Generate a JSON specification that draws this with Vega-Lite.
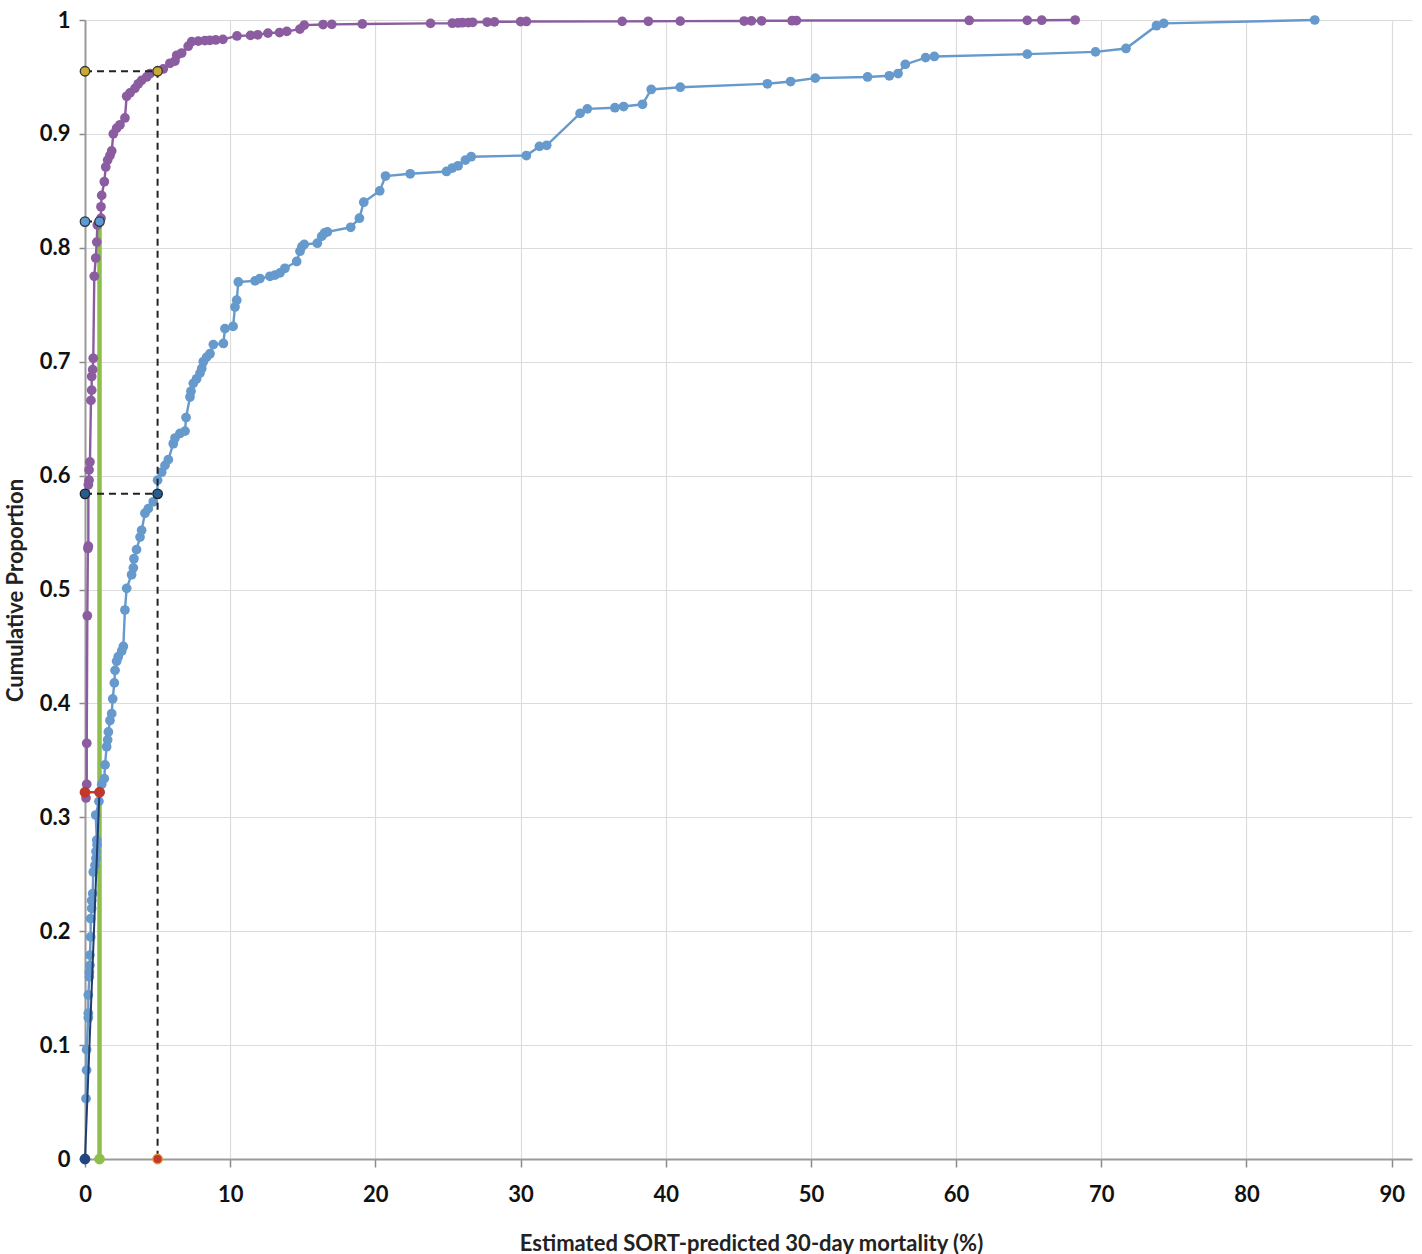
{
  "$schema": "https://vega.github.io/schema/vega-lite/v6.json",
  "autosize": "none",
  "width": 1327,
  "height": 1139,
  "padding": {"left": 85, "top": 20, "right": 10, "bottom": 95},
  "background": "white",
  "config": {
    "view": {"stroke": null},
    "font": "Lato",
    "axis": {
      "gridColor": "#dcdcdc",
      "gridWidth": 1.2,
      "domainColor": "#9a9a9a",
      "domainWidth": 2,
      "tickColor": "#8a8a8a",
      "tickWidth": 1.5,
      "labelColor": "#111",
      "labelFont": "Lato",
      "labelFontWeight": "bold",
      "labelFontSize": 22,
      "labelFlush": false,
      "titleFont": "Lato",
      "titleFontWeight": "bold",
      "titleFontSize": 22,
      "titleColor": "#222"
    }
  },
  "datasets": {
    "curves": [
      {"s": "Elective", "x": 0.07, "y": 0.317}, {"s": "Elective", "x": 0.12, "y": 0.329}, {"s": "Elective", "x": 0.12, "y": 0.365}, {"s": "Elective", "x": 0.16, "y": 0.477}, {"s": "Elective", "x": 0.2, "y": 0.536}, {"s": "Elective", "x": 0.23, "y": 0.538}, {"s": "Elective", "x": 0.23, "y": 0.592}, {"s": "Elective", "x": 0.28, "y": 0.596}, {"s": "Elective", "x": 0.28, "y": 0.605}, {"s": "Elective", "x": 0.34, "y": 0.612}, {"s": "Elective", "x": 0.41, "y": 0.666}, {"s": "Elective", "x": 0.46, "y": 0.675}, {"s": "Elective", "x": 0.46, "y": 0.687}, {"s": "Elective", "x": 0.53, "y": 0.693}, {"s": "Elective", "x": 0.57, "y": 0.703}, {"s": "Elective", "x": 0.64, "y": 0.775}, {"s": "Elective", "x": 0.74, "y": 0.791}, {"s": "Elective", "x": 0.81, "y": 0.805}, {"s": "Elective", "x": 0.85, "y": 0.82}, {"s": "Elective", "x": 1.1, "y": 0.826}, {"s": "Elective", "x": 1.1, "y": 0.836}, {"s": "Elective", "x": 1.15, "y": 0.846}, {"s": "Elective", "x": 1.33, "y": 0.858}, {"s": "Elective", "x": 1.43, "y": 0.871}, {"s": "Elective", "x": 1.56, "y": 0.877}, {"s": "Elective", "x": 1.72, "y": 0.881}, {"s": "Elective", "x": 1.84, "y": 0.885}, {"s": "Elective", "x": 1.95, "y": 0.9}, {"s": "Elective", "x": 2.18, "y": 0.905}, {"s": "Elective", "x": 2.41, "y": 0.908}, {"s": "Elective", "x": 2.75, "y": 0.914}, {"s": "Elective", "x": 2.87, "y": 0.933}, {"s": "Elective", "x": 3.1, "y": 0.936}, {"s": "Elective", "x": 3.44, "y": 0.94}, {"s": "Elective", "x": 3.67, "y": 0.944}, {"s": "Elective", "x": 3.9, "y": 0.947}, {"s": "Elective", "x": 4.25, "y": 0.95}, {"s": "Elective", "x": 4.48, "y": 0.953}, {"s": "Elective", "x": 5.01, "y": 0.955}, {"s": "Elective", "x": 5.39, "y": 0.957}, {"s": "Elective", "x": 5.85, "y": 0.962}, {"s": "Elective", "x": 6.2, "y": 0.964}, {"s": "Elective", "x": 6.32, "y": 0.969}, {"s": "Elective", "x": 6.66, "y": 0.971}, {"s": "Elective", "x": 7.11, "y": 0.977}, {"s": "Elective", "x": 7.35, "y": 0.981}, {"s": "Elective", "x": 7.8, "y": 0.9815}, {"s": "Elective", "x": 8.26, "y": 0.982}, {"s": "Elective", "x": 8.6, "y": 0.9822}, {"s": "Elective", "x": 9.0, "y": 0.9825}, {"s": "Elective", "x": 9.5, "y": 0.983}, {"s": "Elective", "x": 10.47, "y": 0.986}, {"s": "Elective", "x": 11.4, "y": 0.9865}, {"s": "Elective", "x": 11.9, "y": 0.987}, {"s": "Elective", "x": 12.6, "y": 0.9885}, {"s": "Elective", "x": 13.4, "y": 0.989}, {"s": "Elective", "x": 13.9, "y": 0.99}, {"s": "Elective", "x": 14.8, "y": 0.992}, {"s": "Elective", "x": 15.1, "y": 0.9955}, {"s": "Elective", "x": 16.4, "y": 0.996}, {"s": "Elective", "x": 17.0, "y": 0.9962}, {"s": "Elective", "x": 19.1, "y": 0.9965}, {"s": "Elective", "x": 23.8, "y": 0.997}, {"s": "Elective", "x": 25.3, "y": 0.9972}, {"s": "Elective", "x": 25.7, "y": 0.9974}, {"s": "Elective", "x": 26.0, "y": 0.9976}, {"s": "Elective", "x": 26.4, "y": 0.9978}, {"s": "Elective", "x": 26.7, "y": 0.998}, {"s": "Elective", "x": 27.7, "y": 0.9982}, {"s": "Elective", "x": 28.2, "y": 0.9984}, {"s": "Elective", "x": 30.0, "y": 0.9986}, {"s": "Elective", "x": 30.4, "y": 0.9987}, {"s": "Elective", "x": 37.0, "y": 0.9988}, {"s": "Elective", "x": 38.8, "y": 0.9989}, {"s": "Elective", "x": 41.0, "y": 0.999}, {"s": "Elective", "x": 45.4, "y": 0.9991}, {"s": "Elective", "x": 45.9, "y": 0.9992}, {"s": "Elective", "x": 46.6, "y": 0.9993}, {"s": "Elective", "x": 48.7, "y": 0.9994}, {"s": "Elective", "x": 49.0, "y": 0.9995}, {"s": "Elective", "x": 60.9, "y": 0.9996}, {"s": "Elective", "x": 64.9, "y": 0.9997}, {"s": "Elective", "x": 65.9, "y": 0.9998}, {"s": "Elective", "x": 68.2, "y": 1.0},
      {"s": "Emergency", "x": 0.07, "y": 0.053}, {"s": "Emergency", "x": 0.11, "y": 0.078}, {"s": "Emergency", "x": 0.11, "y": 0.096}, {"s": "Emergency", "x": 0.23, "y": 0.124}, {"s": "Emergency", "x": 0.23, "y": 0.128}, {"s": "Emergency", "x": 0.23, "y": 0.144}, {"s": "Emergency", "x": 0.3, "y": 0.16}, {"s": "Emergency", "x": 0.3, "y": 0.164}, {"s": "Emergency", "x": 0.34, "y": 0.17}, {"s": "Emergency", "x": 0.34, "y": 0.179}, {"s": "Emergency", "x": 0.39, "y": 0.195}, {"s": "Emergency", "x": 0.39, "y": 0.211}, {"s": "Emergency", "x": 0.46, "y": 0.22}, {"s": "Emergency", "x": 0.46, "y": 0.227}, {"s": "Emergency", "x": 0.53, "y": 0.233}, {"s": "Emergency", "x": 0.57, "y": 0.252}, {"s": "Emergency", "x": 0.69, "y": 0.258}, {"s": "Emergency", "x": 0.76, "y": 0.264}, {"s": "Emergency", "x": 0.76, "y": 0.27}, {"s": "Emergency", "x": 0.83, "y": 0.276}, {"s": "Emergency", "x": 0.81, "y": 0.28}, {"s": "Emergency", "x": 0.74, "y": 0.302}, {"s": "Emergency", "x": 0.96, "y": 0.314}, {"s": "Emergency", "x": 1.03, "y": 0.322}, {"s": "Emergency", "x": 1.15, "y": 0.329}, {"s": "Emergency", "x": 1.33, "y": 0.334}, {"s": "Emergency", "x": 1.38, "y": 0.346}, {"s": "Emergency", "x": 1.49, "y": 0.362}, {"s": "Emergency", "x": 1.56, "y": 0.368}, {"s": "Emergency", "x": 1.61, "y": 0.375}, {"s": "Emergency", "x": 1.72, "y": 0.385}, {"s": "Emergency", "x": 1.84, "y": 0.391}, {"s": "Emergency", "x": 1.91, "y": 0.404}, {"s": "Emergency", "x": 2.02, "y": 0.418}, {"s": "Emergency", "x": 2.07, "y": 0.429}, {"s": "Emergency", "x": 2.18, "y": 0.437}, {"s": "Emergency", "x": 2.29, "y": 0.441}, {"s": "Emergency", "x": 2.53, "y": 0.446}, {"s": "Emergency", "x": 2.64, "y": 0.45}, {"s": "Emergency", "x": 2.75, "y": 0.482}, {"s": "Emergency", "x": 2.87, "y": 0.501}, {"s": "Emergency", "x": 3.21, "y": 0.513}, {"s": "Emergency", "x": 3.33, "y": 0.519}, {"s": "Emergency", "x": 3.37, "y": 0.527}, {"s": "Emergency", "x": 3.55, "y": 0.535}, {"s": "Emergency", "x": 3.79, "y": 0.546}, {"s": "Emergency", "x": 3.9, "y": 0.552}, {"s": "Emergency", "x": 4.13, "y": 0.567}, {"s": "Emergency", "x": 4.36, "y": 0.571}, {"s": "Emergency", "x": 4.7, "y": 0.577}, {"s": "Emergency", "x": 4.98, "y": 0.584}, {"s": "Emergency", "x": 5.0, "y": 0.596}, {"s": "Emergency", "x": 5.28, "y": 0.603}, {"s": "Emergency", "x": 5.51, "y": 0.609}, {"s": "Emergency", "x": 5.74, "y": 0.614}, {"s": "Emergency", "x": 6.08, "y": 0.628}, {"s": "Emergency", "x": 6.2, "y": 0.633}, {"s": "Emergency", "x": 6.54, "y": 0.637}, {"s": "Emergency", "x": 6.89, "y": 0.639}, {"s": "Emergency", "x": 6.96, "y": 0.651}, {"s": "Emergency", "x": 7.23, "y": 0.669}, {"s": "Emergency", "x": 7.3, "y": 0.674}, {"s": "Emergency", "x": 7.46, "y": 0.681}, {"s": "Emergency", "x": 7.69, "y": 0.685}, {"s": "Emergency", "x": 7.92, "y": 0.69}, {"s": "Emergency", "x": 8.04, "y": 0.694}, {"s": "Emergency", "x": 8.15, "y": 0.7}, {"s": "Emergency", "x": 8.38, "y": 0.704}, {"s": "Emergency", "x": 8.61, "y": 0.707}, {"s": "Emergency", "x": 8.84, "y": 0.715}, {"s": "Emergency", "x": 9.53, "y": 0.716}, {"s": "Emergency", "x": 9.64, "y": 0.729}, {"s": "Emergency", "x": 10.2, "y": 0.731}, {"s": "Emergency", "x": 10.33, "y": 0.748}, {"s": "Emergency", "x": 10.45, "y": 0.754}, {"s": "Emergency", "x": 10.56, "y": 0.77}, {"s": "Emergency", "x": 11.71, "y": 0.771}, {"s": "Emergency", "x": 12.05, "y": 0.773}, {"s": "Emergency", "x": 12.74, "y": 0.775}, {"s": "Emergency", "x": 13.08, "y": 0.776}, {"s": "Emergency", "x": 13.43, "y": 0.778}, {"s": "Emergency", "x": 13.77, "y": 0.782}, {"s": "Emergency", "x": 14.58, "y": 0.788}, {"s": "Emergency", "x": 14.81, "y": 0.797}, {"s": "Emergency", "x": 14.94, "y": 0.801}, {"s": "Emergency", "x": 15.1, "y": 0.803}, {"s": "Emergency", "x": 16.0, "y": 0.804}, {"s": "Emergency", "x": 16.3, "y": 0.81}, {"s": "Emergency", "x": 16.5, "y": 0.813}, {"s": "Emergency", "x": 16.7, "y": 0.814}, {"s": "Emergency", "x": 18.3, "y": 0.818}, {"s": "Emergency", "x": 18.9, "y": 0.826}, {"s": "Emergency", "x": 19.2, "y": 0.84}, {"s": "Emergency", "x": 20.3, "y": 0.85}, {"s": "Emergency", "x": 20.7, "y": 0.863}, {"s": "Emergency", "x": 22.4, "y": 0.865}, {"s": "Emergency", "x": 24.9, "y": 0.867}, {"s": "Emergency", "x": 25.3, "y": 0.87}, {"s": "Emergency", "x": 25.7, "y": 0.872}, {"s": "Emergency", "x": 26.2, "y": 0.877}, {"s": "Emergency", "x": 26.6, "y": 0.88}, {"s": "Emergency", "x": 30.4, "y": 0.881}, {"s": "Emergency", "x": 31.3, "y": 0.889}, {"s": "Emergency", "x": 31.8, "y": 0.89}, {"s": "Emergency", "x": 34.1, "y": 0.918}, {"s": "Emergency", "x": 34.6, "y": 0.922}, {"s": "Emergency", "x": 36.5, "y": 0.923}, {"s": "Emergency", "x": 37.1, "y": 0.924}, {"s": "Emergency", "x": 38.4, "y": 0.926}, {"s": "Emergency", "x": 39.0, "y": 0.939}, {"s": "Emergency", "x": 41.0, "y": 0.941}, {"s": "Emergency", "x": 47.0, "y": 0.944}, {"s": "Emergency", "x": 48.6, "y": 0.946}, {"s": "Emergency", "x": 50.3, "y": 0.949}, {"s": "Emergency", "x": 53.9, "y": 0.95}, {"s": "Emergency", "x": 55.4, "y": 0.951}, {"s": "Emergency", "x": 56.0, "y": 0.953}, {"s": "Emergency", "x": 56.5, "y": 0.961}, {"s": "Emergency", "x": 57.9, "y": 0.967}, {"s": "Emergency", "x": 58.5, "y": 0.968}, {"s": "Emergency", "x": 64.9, "y": 0.97}, {"s": "Emergency", "x": 69.6, "y": 0.972}, {"s": "Emergency", "x": 71.7, "y": 0.975}, {"s": "Emergency", "x": 73.8, "y": 0.995}, {"s": "Emergency", "x": 74.3, "y": 0.997}, {"s": "Emergency", "x": 84.7, "y": 1.0}
    ],
    "guides": [
      {"g": "green", "o": 1, "x": 1, "y": 0},
      {"g": "green", "o": 2, "x": 1, "y": 0.823},
      {"g": "navy", "o": 1, "x": 0, "y": 0},
      {"g": "navy", "o": 2, "x": 0.98, "y": 0.318},
      {"g": "red", "o": 1, "x": 0, "y": 0.322},
      {"g": "red", "o": 2, "x": 1, "y": 0.322},
      {"g": "cut1", "o": 1, "x": 0, "y": 0.823},
      {"g": "cut1", "o": 2, "x": 1, "y": 0.823},
      {"g": "cut5e", "o": 1, "x": 0, "y": 0.955},
      {"g": "cut5e", "o": 2, "x": 5, "y": 0.955},
      {"g": "cut5e", "o": 3, "x": 5, "y": 0},
      {"g": "cut5m", "o": 1, "x": 0, "y": 0.584},
      {"g": "cut5m", "o": 2, "x": 5, "y": 0.584}
    ],
    "markers": [
      {"m": "origin", "x": 0, "y": 0},
      {"m": "one", "x": 1, "y": 0},
      {"m": "five", "x": 5, "y": 0},
      {"m": "p322", "x": 0, "y": 0.322},
      {"m": "p322", "x": 1, "y": 0.322},
      {"m": "p823", "x": 0, "y": 0.823},
      {"m": "p823", "x": 1, "y": 0.823},
      {"m": "p584", "x": 0, "y": 0.584},
      {"m": "p584", "x": 5, "y": 0.584},
      {"m": "p955", "x": 0, "y": 0.955},
      {"m": "p955", "x": 5, "y": 0.955}
    ]
  },
  "encoding": {
    "x": {
      "field": "x", "type": "quantitative",
      "scale": {"domain": [0, 91.4], "nice": false, "zero": false},
      "axis": {
        "values": [0, 10, 20, 30, 40, 50, 60, 70, 80, 90],
        "tickSize": 8, "labelPadding": 17, "format": "d",
        "title": "Estimated SORT-predicted 30-day mortality (%)",
        "titleX": 666, "titleY": 84, "titleBaseline": "middle", "titleAnchor": "middle"
      }
    },
    "y": {
      "field": "y", "type": "quantitative",
      "scale": {"domain": [0, 1], "nice": false},
      "axis": {
        "values": [0, 0.1, 0.2, 0.3, 0.4, 0.5, 0.6, 0.7, 0.8, 0.9, 1],
        "format": "~g", "tickSize": 6, "labelPadding": 9,
        "title": "Cumulative Proportion",
        "titleX": -70, "titleY": 570, "titleAngle": -90, "titleBaseline": "middle", "titleAnchor": "middle"
      }
    }
  },
  "layer": [
    {
      "data": {"name": "guides"},
      "transform": [{"filter": "datum.g === 'green'"}],
      "mark": {"type": "line", "color": "#8dbf4a", "strokeWidth": 4.5},
      "encoding": {"order": {"field": "o", "type": "quantitative"}}
    },
    {
      "data": {"name": "curves"},
      "transform": [{"filter": "datum.s === 'Emergency'"}],
      "mark": {"type": "line", "color": "#6699cc", "strokeWidth": 2.4, "point": {"filled": true, "size": 95, "color": "#6699cc", "opacity": 1}},
      "encoding": {"order": {"field": "y", "type": "quantitative"}}
    },
    {
      "data": {"name": "guides"},
      "transform": [{"filter": "datum.g === 'navy'"}],
      "mark": {"type": "line", "color": "#1f3d70", "strokeWidth": 2},
      "encoding": {"order": {"field": "o", "type": "quantitative"}}
    },
    {
      "data": {"name": "curves"},
      "transform": [{"filter": "datum.s === 'Elective'"}],
      "mark": {"type": "line", "color": "#8b5da0", "strokeWidth": 2.4, "point": {"filled": true, "size": 95, "color": "#8b5da0", "opacity": 1}},
      "encoding": {"order": {"field": "y", "type": "quantitative"}}
    },
    {
      "data": {"name": "guides"},
      "transform": [{"filter": "datum.g === 'red'"}],
      "mark": {"type": "line", "color": "#bf3a2e", "strokeWidth": 2.4},
      "encoding": {"order": {"field": "o", "type": "quantitative"}}
    },
    {
      "data": {"name": "guides"},
      "transform": [{"filter": "datum.g === 'cut1' || datum.g === 'cut5e' || datum.g === 'cut5m'"}],
      "mark": {"type": "line", "color": "#222222", "strokeWidth": 2, "strokeDash": [7, 5]},
      "encoding": {
        "detail": {"field": "g", "type": "nominal"},
        "order": {"field": "o", "type": "quantitative"}
      }
    },
    {
      "data": {"name": "markers"},
      "mark": {"type": "point", "shape": "circle", "filled": true, "size": 90, "strokeWidth": 1.3, "opacity": 1},
      "encoding": {
        "fill": {
          "field": "m", "type": "nominal", "legend": null,
          "scale": {
            "domain": ["origin", "one", "five", "p322", "p823", "p584", "p955"],
            "range": ["#21457e", "#8dbf4a", "#c0392b", "#c0392b", "#5b9bd5", "#255e8e", "#c9a834"]
          }
        },
        "stroke": {
          "field": "m", "type": "nominal", "legend": null,
          "scale": {
            "domain": ["origin", "one", "five", "p322", "p823", "p584", "p955"],
            "range": ["#21457e", "#8dbf4a", "#e39a2c", "#c0392b", "#333333", "#222222", "#333333"]
          }
        }
      }
    }
  ]
}
